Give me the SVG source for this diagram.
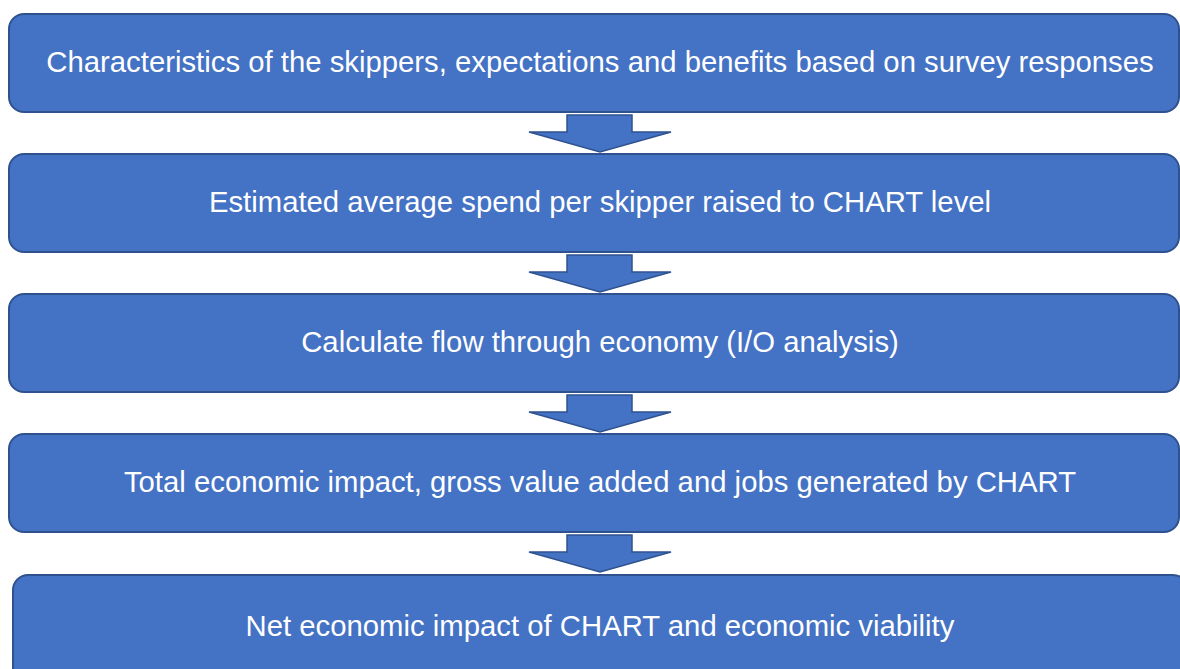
<svg xmlns="http://www.w3.org/2000/svg" width="1180" height="669" viewBox="0 0 1180 669">
  <style>
    .box { fill: #4472C4; stroke: #2F528F; stroke-width: 2; }
    .arrow { fill: #4472C4; stroke: #2F528F; stroke-width: 1.5; stroke-linejoin: miter; }
    .label { font-family: "Liberation Sans", Arial, sans-serif; font-size: 29.3px; fill: #FFFFFF; text-anchor: middle; }
  </style>
  <rect width="1180" height="669" fill="#FFFFFF"/>

  <g id="connectors">
    <polygon class="arrow" points="567,115 632,115 632,132 671,132 600,152 529,132 567,132"/>
    <polygon class="arrow" points="567,255 632,255 632,272 671,272 600,292 529,272 567,272"/>
    <polygon class="arrow" points="567,395 632,395 632,412 671,412 600,432 529,412 567,412"/>
    <polygon class="arrow" points="567,535 632,535 632,552 671,552 600,572 529,552 567,552"/>
  </g>

  <g id="step1">
    <rect class="box" x="9" y="14" width="1170" height="98" rx="15"/>
    <text class="label" x="600" y="72">Characteristics of the skippers, expectations and benefits based on survey responses</text>
  </g>
  <g id="step2">
    <rect class="box" x="9" y="154" width="1170" height="98" rx="15"/>
    <text class="label" x="600" y="212">Estimated average spend per skipper raised to CHART level</text>
  </g>
  <g id="step3">
    <rect class="box" x="9" y="294" width="1170" height="98" rx="15"/>
    <text class="label" x="600" y="352">Calculate flow through economy (I/O analysis)</text>
  </g>
  <g id="step4">
    <rect class="box" x="9" y="434" width="1170" height="98" rx="15"/>
    <text class="label" x="600" y="492">Total economic impact, gross value added and jobs generated by CHART</text>
  </g>
  <g id="step5">
    <rect class="box" x="13" y="575" width="1175" height="110" rx="15"/>
    <text class="label" x="600" y="636">Net economic impact of CHART and economic viability</text>
  </g>
</svg>
